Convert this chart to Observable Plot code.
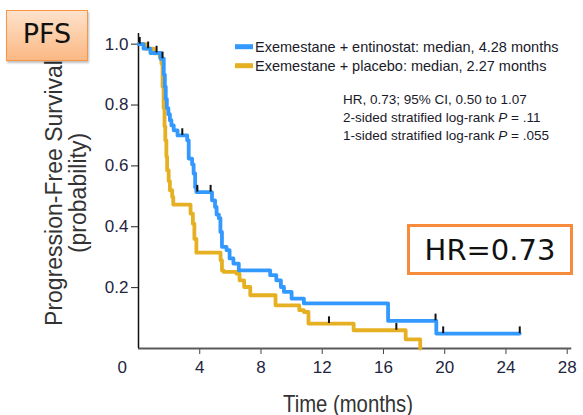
<!DOCTYPE html>
<html><head><meta charset="utf-8">
<script src="https://cdn.jsdelivr.net/npm/d3@7"></script>
<script src="https://cdn.jsdelivr.net/npm/@observablehq/plot@0.6"></script>
<style>
html,body{margin:0;padding:0;background:#fff;}
#chart{position:relative;width:583px;height:415px;overflow:hidden;}
.box{position:absolute;box-sizing:border-box;display:flex;align-items:center;justify-content:center;font-family:"DejaVu Sans",Verdana,sans-serif;color:#111;}
#pfs{left:6px;top:10px;width:82px;height:51px;border:1.5px solid #f79646;background:linear-gradient(#fde2cb,#fbb883);box-shadow:1px 2px 2px rgba(0,0,0,0.25);font-size:27px;padding-bottom:4px;}
#hr{left:407px;top:224px;width:166px;height:51px;border:3px solid #f68b3b;background:#fff;font-size:29px;}
</style></head><body><div id="chart"></div>
<script>
// Series: Kaplan–Meier steps (time in months, survival probability)
const entinostatTime = [0, 0.33, 0.78, 1.44, 1.65, 1.72, 1.78, 1.85, 1.95, 2.05, 2.15, 2.3, 2.55, 3.18, 3.28, 3.5, 3.6, 3.7, 3.78, 4.8, 5.0, 5.1, 5.25, 5.35, 5.45, 5.75, 5.95, 6.2, 6.55, 8.6, 9.0, 9.3, 9.5, 10.0, 10.8, 16.3, 19.45, 24.9];
const entinostatSurv = [1.0, 0.985, 0.971, 0.952, 0.90, 0.86, 0.82, 0.79, 0.77, 0.75, 0.733, 0.717, 0.70, 0.684, 0.624, 0.605, 0.575, 0.53, 0.514, 0.487, 0.465, 0.44, 0.428, 0.383, 0.334, 0.323, 0.296, 0.279, 0.257, 0.241, 0.224, 0.202, 0.186, 0.164, 0.148, 0.091, 0.049, 0.049];
const placeboTime = [0, 0.5, 1.0, 1.4, 1.5, 1.57, 1.64, 1.7, 1.75, 1.82, 1.87, 1.97, 2.05, 2.2, 2.27, 3.4, 3.55, 3.65, 3.78, 5.36, 5.45, 5.55, 6.4, 6.6, 6.9, 7.3, 8.95, 10.5, 10.8, 11.1, 14.05, 17.45, 18.4];
const placeboSurv = [1.0, 0.985, 0.97, 0.957, 0.936, 0.86, 0.79, 0.73, 0.684, 0.63, 0.586, 0.55, 0.52, 0.498, 0.473, 0.443, 0.41, 0.36, 0.315, 0.29, 0.257, 0.252, 0.246, 0.224, 0.202, 0.175, 0.142, 0.126, 0.12, 0.082, 0.06, 0.03, 0];
// Censor marks
const entinostatCensorTime = [0.08, 0.63, 1.18, 1.57, 2.86, 3.84, 4.71, 19.4, 19.9, 24.9];
const entinostatCensorSurv = [1.0, 0.985, 0.971, 0.952, 0.70, 0.514, 0.514, 0.091, 0.049, 0.049];
const placeboCensorTime = [12.44, 16.84];
const placeboCensorSurv = [0.082, 0.06];
// Ticks and labels
const xTicks = [4, 8, 12, 16, 20, 24, 28];
const yTicks = [0.2, 0.4, 0.6, 0.8, 1.0];
const seriesNames = ["Exemestane + entinostat: median, 4.28 months", "Exemestane + placebo: median, 2.27 months"];
const seriesColors = ["#3399ff", "#e5b021"];
const statLines = [["HR, 0.73; 95% CI, 0.50 to 1.07", null], ["2-sided stratified log-rank ", "P", " = .11"], ["1-sided stratified log-rank ", "P", " = .055"]];
const xTitle = "Time (months)";
const yTitle = ["Progression-Free Survival", "(probability)"];
const boxPFS = "PFS";
const boxHR = "HR=0.73";

const blue = entinostatTime.map((t, i) => ({t, s: entinostatSurv[i]}));
const gold = placeboTime.map((t, i) => ({t, s: placeboSurv[i]}));
const censors = entinostatCensorTime.map((t, i) => ({t, s: entinostatCensorSurv[i]}))
  .concat(placeboCensorTime.map((t, i) => ({t, s: placeboCensorSurv[i]})));

const plot = Plot.plot({
  width: 583, height: 415,
  marginLeft: 138, marginRight: 11.7, marginTop: 33, marginBottom: 67,
  x: {domain: [0, 28.3]},
  y: {domain: [0, 1.035]},
  style: {fontFamily: "'Liberation Sans', Arial, sans-serif", fontSize: "17px", color: "#1e2540", background: "white"},
  marks: [
    Plot.axisY({ticks: yTicks, tickSize: 7, tickPadding: 3, tickFormat: d3.format(".1f"), label: null, stroke: "#222"}),
    Plot.axisX({ticks: xTicks, tickSize: 6, tickPadding: 6, label: null, stroke: "#444"}),
    Plot.text([{t: 0, lab: "0"}], {x: "t", y: () => 0, text: "lab", lineAnchor: "top", dy: 12, dx: -16.3, fontSize: 17, fill: "#1e2540"}),
    Plot.ruleY([0], {x1: 0, x2: 28.3, stroke: "#5a5a5a", strokeWidth: 2.2}),
    Plot.ruleX([0], {y1: 0, y2: 1.035, stroke: "#111", strokeWidth: 1.5}),
    Plot.line(gold, {x: "t", y: "s", curve: "step-after", stroke: seriesColors[1], strokeWidth: 3.8}),
    Plot.line(blue, {x: "t", y: "s", curve: "step-after", stroke: seriesColors[0], strokeWidth: 3.8}),
    Plot.ruleX(censors, {x: "t", y1: "s", y2: d => d.s + 0.022, stroke: "#111", strokeWidth: 2})
  ]
});

const chart = document.getElementById("chart");
chart.appendChild(plot);
const svg = d3.select(plot);

// Legend
const lg = svg.append("g").attr("text-anchor", "start");
seriesNames.forEach((name, i) => {
  const y = 46.7 + i * 19;
  lg.append("rect").attr("x", 235).attr("y", y - 2.5).attr("width", 18).attr("height", 5).attr("fill", seriesColors[i]);
  lg.append("text").attr("x", 255).attr("y", y + 5).attr("text-anchor", "start").attr("font-family", "'Liberation Sans', Arial, sans-serif")
    .attr("font-size", 14.5).attr("fill", "#1a1a2a").text(name);
});
// Stats text
statLines.forEach((parts, i) => {
  const t = svg.append("text").attr("x", 343).attr("y", 104 + i * 18).attr("text-anchor", "start")
    .attr("font-family", "'Liberation Sans', Arial, sans-serif").attr("font-size", 13.5).attr("fill", "#1a1a2a");
  t.append("tspan").text(parts[0]);
  if (parts[1]) {
    t.append("tspan").attr("font-style", "italic").text(parts[1]);
    t.append("tspan").text(parts[2]);
  }
});
// Axis titles
svg.append("text").attr("x", 348).attr("y", 411.5).attr("text-anchor", "middle")
  .attr("font-family", "'Liberation Sans', Arial, sans-serif").attr("font-size", 24)
  .attr("textLength", 130).attr("lengthAdjust", "spacingAndGlyphs").attr("fill", "#333").text(xTitle);
yTitle.forEach((line, i) => {
  svg.append("text").attr("transform", `translate(${62 + i * 24},193) rotate(-90)`).attr("text-anchor", "middle")
    .attr("font-family", "'Liberation Sans', Arial, sans-serif").attr("font-size", 23).attr("fill", "#333").text(line);
});

// Boxes
const pfs = document.createElement("div"); pfs.className = "box"; pfs.id = "pfs"; pfs.textContent = boxPFS; chart.appendChild(pfs);
const hr = document.createElement("div"); hr.className = "box"; hr.id = "hr"; hr.textContent = boxHR; chart.appendChild(hr);
</script>
</body></html>
